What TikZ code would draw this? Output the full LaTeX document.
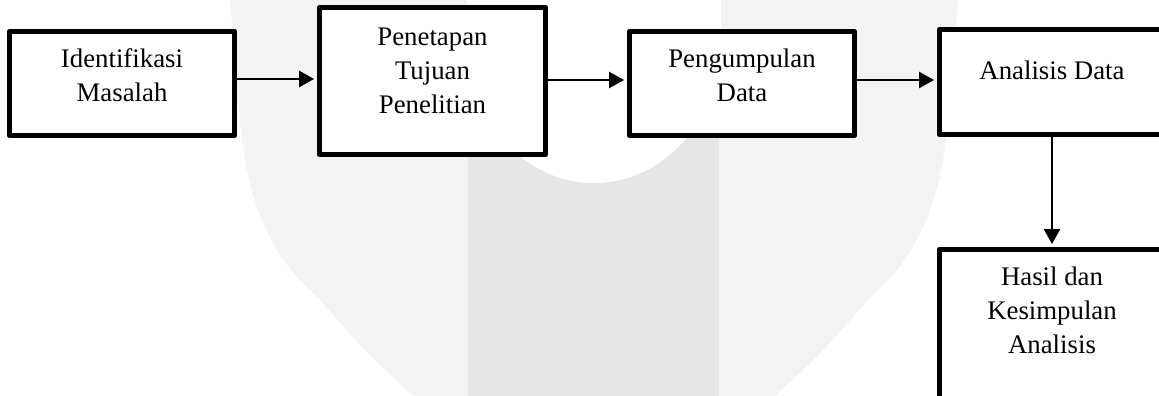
\documentclass[tikz,border=0pt]{standalone}
\usepackage{fontspec}
\setmainfont{Liberation Serif}
\usetikzlibrary{arrows.meta}
\definecolor{wmlight}{HTML}{F3F3F3}
\definecolor{wmdark}{HTML}{E6E6E6}
\begin{document}
\begin{tikzpicture}[x=1pt,y=-1pt,
  box/.style={draw, fill=white, line width=5.5pt, line join=round, inner sep=0pt},
  lbl/.style={font=\fontsize{26.8}{34}\selectfont, align=center, anchor=base, inner sep=0pt},
  arr/.style={line width=2.6pt, -{Triangle[length=15pt,width=16pt]}, shorten >=2.7pt}]
\useasboundingbox (0,0) rectangle (1159,396);
\clip (0,0) rectangle (1159,396);
% watermark
\fill[wmlight] plot[smooth, tension=0.6] coordinates {(224,-20) (230,0) (236,80) (245,160) (258,210) (277,250) (297,277) (320,300) (365,350) (413,396) (427,410)}
  -- plot[smooth, tension=0.6] coordinates {(761,410) (775,396) (823,350) (868,300) (891,277) (911,250) (930,210) (943,160) (952,80) (958,0) (964,-20)} -- cycle;
\fill[wmdark] (467.5,100) rectangle (719,400);
\fill[white] (467,-5) -- (467,40) arc[start angle=180, end angle=0, x radius=127, y radius=143] -- (721,-5) -- cycle;
% boxes
\node[box, minimum width=225pt, minimum height=104pt] (b1) at (122,83.5) {};
\node[box, minimum width=226pt, minimum height=147pt] (b2) at (432.5,81) {};
\node[box, minimum width=225pt, minimum height=104pt] (b3) at (742,83.5) {};
\node[box, minimum width=226.5pt, minimum height=105pt] (b4) at (1052.75,82) {};
\node[box, minimum width=226.5pt, minimum height=152pt] (b5) at (1052.75,325.5) {};
% texts (anchored at the baseline of the last line)
\node[lbl] (t1) at (122,101) {Identifikasi\\Masalah};
\node[lbl] (t2) at (432.5,113) {Penetapan\\Tujuan\\Penelitian};
\node[lbl] (t3) at (742,101) {Pengumpulan\\Data};
\node[lbl] (t4) at (1052,80) {Analisis Data};
\node[lbl] (t5) at (1052,353) {Hasil dan\\Kesimpulan\\Analisis};
% connectors
\coordinate (r1) at (0,79);
\coordinate (r2) at (0,80);
\coordinate (dx) at (1052,0);
\draw[arr] (b1.east |- r1) -- (b2.west |- r1);
\draw[arr] (b2.east |- r2) -- (b3.west |- r2);
\draw[arr] (b3.east |- r2) -- (b4.west |- r2);
\draw[arr] (b4.south -| dx) -- (b5.north -| dx);
\end{tikzpicture}
\end{document}
